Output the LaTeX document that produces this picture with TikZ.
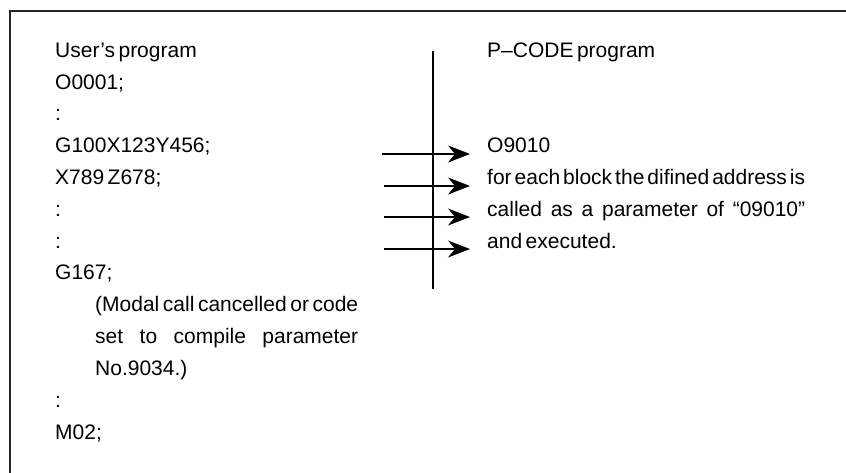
\documentclass[tikz,border=0pt]{standalone}
\usepackage{fontspec}
\setmainfont{Liberation Sans}[WordSpace=0.6]
\usetikzlibrary{arrows.meta}
\begin{document}
\begin{tikzpicture}[x=1pt,y=-1pt,
  txt/.style={anchor=base west,inner sep=0pt,font=\fontsize{21}{24}\selectfont},
  conn/.style={line width=1.3pt,-{Stealth[length=22pt,width=17pt,inset=7pt]}},
  frameline/.style={line width=1.8pt,draw=black!85},
  divider/.style={line width=1.3pt}]
\useasboundingbox (0,0) rectangle (846,473);
% frame (top and left edges)
\coordinate (ftr) at (846,11);
\coordinate (ftl) at (10,11);
\coordinate (fbl) at (10,473);
\draw[frameline] (ftr) -- (ftl) -- (fbl);
% left column
\node[txt] (l0)  at (55,57.5)   {User’s program};
\node[txt] (l1)  at (55,89.25)  {O0001;};
\node[txt] (l2)  at (55,121)    {:};
\node[txt] (l3)  at (55,152.75) {G100X123Y456;};
\node[txt] (l4)  at (55,184.5)  {X789 Z678;};
\node[txt] (l5)  at (55,216.25) {:};
\node[txt] (l6)  at (55,248)    {:};
\node[txt] (l7)  at (55,279.75) {G167;};
\node[txt] (l8)  at (95,311.5)  {\makebox[263pt][s]{(Modal call cancelled or code}};
\node[txt] (l9)  at (95,343.25) {\makebox[263pt][s]{set to compile parameter}};
\node[txt] (l10) at (95,375)    {No.9034.)};
\node[txt] (l11) at (55,407.5)  {:};
\node[txt] (l12) at (55,439)    {M02;};
% right column
\node[txt] (r0) at (487,57.5)   {P–CODE program};
\node[txt] (r1) at (487,152.75) {O9010};
\node[txt] (r2) at (487,184.5)  {\makebox[318pt][s]{for each block the difined address is}};
\node[txt] (r3) at (487,216.25) {\makebox[318pt][s]{called as a parameter of “09010”}};
\node[txt] (r4) at (487,248)    {and executed.};
% divider
\coordinate (dt) at (433,51);
\coordinate (db) at (433,289);
\draw[divider] (dt) -- (db);
% arrows
\coordinate (s1) at (382,154);  \coordinate (t1) at (470,154);
\coordinate (s2) at (384,186);  \coordinate (t2) at (470,186);
\coordinate (s3) at (384,217);  \coordinate (t3) at (470,217);
\coordinate (s4) at (384,249);  \coordinate (t4) at (470,249);
\draw[conn] (s1) -- (t1);
\draw[conn] (s2) -- (t2);
\draw[conn] (s3) -- (t3);
\draw[conn] (s4) -- (t4);
\end{tikzpicture}
\end{document}
